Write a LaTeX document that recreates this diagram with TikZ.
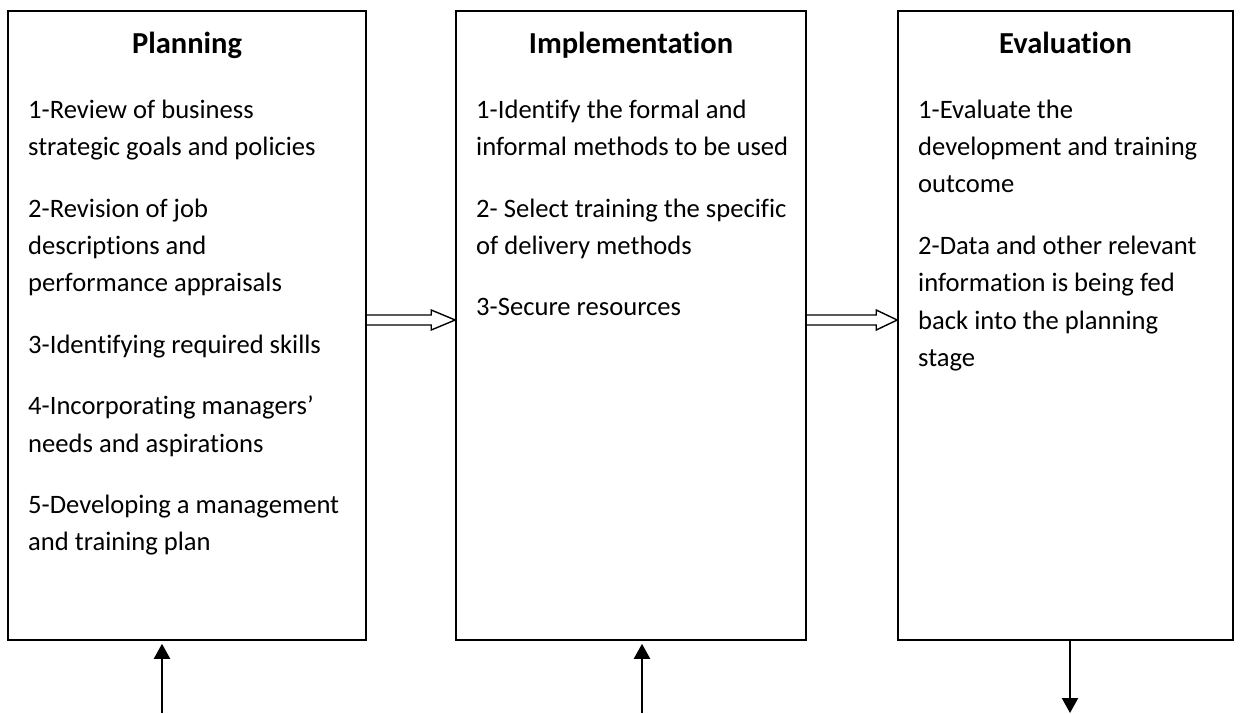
\documentclass[tikz,border=0pt]{standalone}
\usepackage{fontspec}
\setmainfont{Carlito}[Ligatures={NoCommon,NoContextual,NoRare}]
\usetikzlibrary{arrows.meta,calc}
\begin{document}
\begin{tikzpicture}[x=1pt,y=-1pt,
  box/.style={draw, line width=1.6pt, inner sep=0pt},
  title/.style={font=\bfseries\fontsize{30.5}{36}\selectfont, anchor=base, inner sep=0pt},
  body/.style={font=\fontsize{26.6}{37.3}\selectfont, align=left, anchor=north west, inner sep=0pt},
  hollow/.style={draw, line width=1.4pt, line join=miter},
  stem/.style={line width=2.2pt, -{Triangle[length=15pt,width=16pt]}}]
\useasboundingbox (0,0) rectangle (1244,713);

% the three stage boxes
\node[box, minimum width=358pt, minimum height=629pt] (plan) at (187,325.5) {};
\node[box, minimum width=350pt, minimum height=629pt] (impl) at (631,325.5) {};
\node[box, minimum width=335pt, minimum height=629pt] (eval) at (1065.5,325.5) {};

% headings
\node[title] (planT) at (187,53) {Planning};
\node[title] (implT) at (631,53) {Implementation};
\node[title] (evalT) at (1065.5,53) {Evaluation};

% step lists
\def\gap{\\[24.2pt]}
\node[body] (planL) at (28,92) {\strut 1-Review of business\\strategic goals and policies\gap
  2-Revision of job\\descriptions and\\performance appraisals\gap
  3-Identifying required skills\gap
  4-Incorporating managers’\\needs and aspirations\gap
  5-Developing a management\\and training plan};
\node[body] (implL) at (476,92) {\strut 1-Identify the formal and\\informal methods to be used\gap
  2- Select training the specific\\of delivery methods\gap
  3-Secure resources};
\node[body] (evalL) at (918,92) {\strut 1-Evaluate the\\development and training\\outcome\gap
  2-Data and other relevant\\information is being fed\\back into the planning\\stage};

% hollow arrows between the stages
\draw[hollow] ($(plan.east)+(0,-10.5)$) -- ($(impl.west)+(-24,-10.5)$)
  -- ($(impl.west)+(-24,-15.5)$) -- ($(impl.west)+(0,-5.5)$)
  -- ($(impl.west)+(-24,4.5)$) -- ($(impl.west)+(-24,-0.5)$)
  -- ($(plan.east)+(0,-0.5)$);
\draw[hollow] ($(impl.east)+(0,-10.5)$) -- ($(eval.west)+(-21,-10.5)$)
  -- ($(eval.west)+(-21,-15.5)$) -- ($(eval.west)+(0,-5.5)$)
  -- ($(eval.west)+(-21,4.5)$) -- ($(eval.west)+(-21,-0.5)$)
  -- ($(impl.east)+(0,-0.5)$);

% inputs from below and the output of the evaluation stage
\coordinate (inP) at (162,713);
\coordinate (inI) at (642,713);
\coordinate (outE) at (1070,713);
\draw[stem, shorten >=3pt] (inP) -- (inP |- plan.south);
\draw[stem, shorten >=3pt] (inI) -- (inI |- impl.south);
\draw[stem] (outE |- eval.south) -- (outE);
\end{tikzpicture}
\end{document}
